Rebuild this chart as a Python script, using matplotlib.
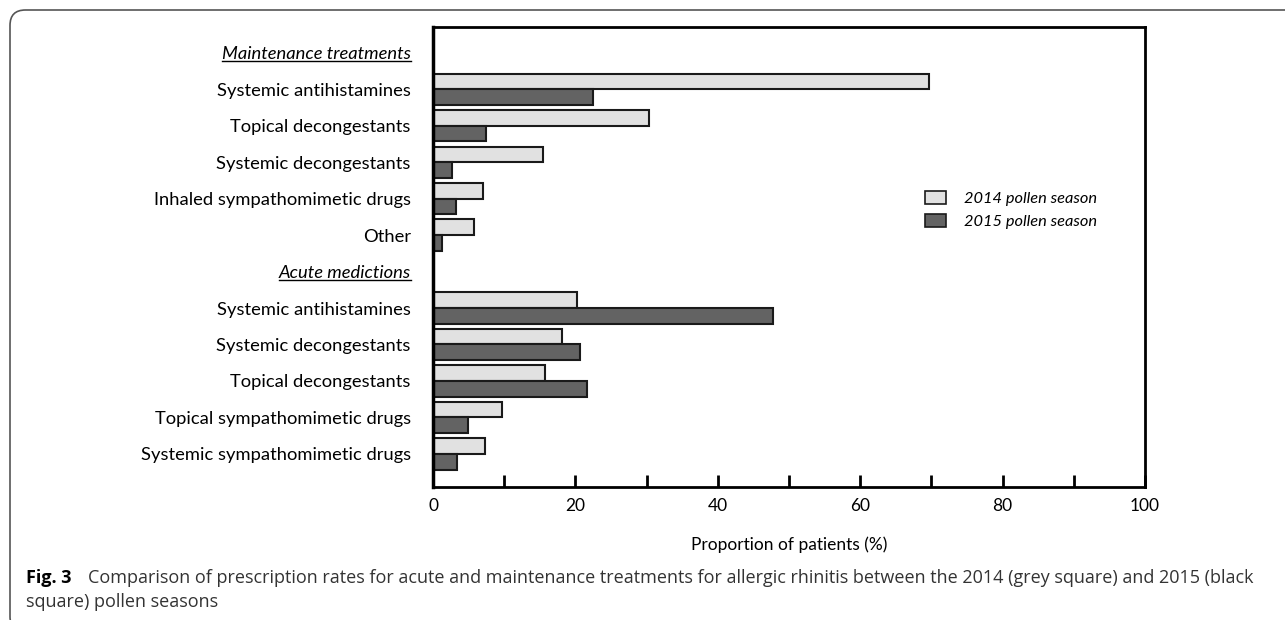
import matplotlib
matplotlib.use("Agg")
import matplotlib.pyplot as plt
from matplotlib.patches import FancyBboxPatch, Patch
from matplotlib.lines import Line2D

plt.rcParams['font.family'] = ['Lato', 'DejaVu Sans']

# data
maint_labels = ["Systemic antihistamines", "Topical decongestants", "Systemic decongestants",
                "Inhaled sympathomimetic drugs", "Other"]
maint_2014 = [69.7, 30.3, 15.5, 7.0, 5.7]
maint_2015 = [22.5, 7.4, 2.7, 3.2, 1.3]

acute_labels = ["Systemic antihistamines", "Systemic decongestants", "Topical decongestants",
                "Topical sympathomimetic drugs", "Systemic sympathomimetic drugs"]
acute_2014 = [20.2, 18.1, 15.8, 9.7, 7.3]
acute_2015 = [47.8, 20.6, 21.6, 4.9, 3.4]

header_maint = "Maintenance treatments"
header_acute = "Acute medictions"
xticks = [0, 20, 40, 60, 80, 100]

light = '#e1e1e1'
dark = '#636363'

# row layout: header, 5 rows, header, 5 rows
rows_m = list(range(1, 1 + len(maint_labels)))
rows_a = list(range(2 + len(maint_labels), 2 + len(maint_labels) + len(acute_labels)))
rows = rows_m + rows_a
v2014 = maint_2014 + acute_2014
v2015 = maint_2015 + acute_2015
all_labels = [header_maint] + maint_labels + [header_acute] + acute_labels

fig = plt.figure(figsize=(12.85, 6.2), dpi=100)
ax = fig.add_axes([433/1285, 133/620, 712/1285, 460/620])

h = 0.43
ax.barh([r - h/2 for r in rows], v2014, height=h, color=light, edgecolor='#1a1a1a', linewidth=1.5)
ax.barh([r + h/2 for r in rows], v2015, height=h, color=dark, edgecolor='#1a1a1a', linewidth=1.5)

ax.set_xlim(0, 100)
ax.set_ylim(11.91, -0.71)
ax.set_xticks(xticks)
ax.set_xticks([10, 30, 50, 70, 90], minor=True)
ax.tick_params(axis='x', which='both', direction='in', length=9, width=2, labelsize=12.5, pad=8)
ax.set_yticks(range(len(all_labels)))
ax.set_yticklabels(all_labels, fontsize=13.2)
ax.tick_params(axis='y', length=0, pad=16)
for sp in ax.spines.values():
    sp.set_linewidth(2)
ax.spines['left'].set_linewidth(2.5)

ylabs = ax.get_yticklabels()
for i in (0, len(maint_labels) + 1):
    ylabs[i].set_fontstyle('italic')

ax.set_xlabel("Proportion of patients (%)", fontsize=12.5, labelpad=16)

leg = ax.legend(handles=[Patch(facecolor=light, edgecolor='#1a1a1a', linewidth=1.2),
                         Patch(facecolor=dark, edgecolor='#1a1a1a', linewidth=1.2)],
                labels=["2014 pollen season", "2015 pollen season"],
                loc='center left', bbox_to_anchor=(910/1285, 1 - 210/620),
                bbox_transform=fig.transFigure, frameon=False,
                prop={'style': 'italic', 'size': 11.8}, handlelength=1.3, handleheight=0.9,
                handletextpad=1.1, labelspacing=0.45)

# caption
cap_font = ['Open Sans', 'DejaVu Sans']
fig.text(26/1285, 1 - 578/620, "Fig. 3", fontsize=13, fontweight='bold', va='center',
         family=cap_font)
fig.text(88/1285, 1 - 578/620,
         "Comparison of prescription rates for acute and maintenance treatments for allergic rhinitis "
         "between the 2014 (grey square) and 2015 (black",
         fontsize=13, va='center', color='#333333', family=cap_font)
fig.text(26/1285, 1 - 602/620, "square) pollen seasons", fontsize=13, va='center',
         color='#333333', family=cap_font)

# frame
frame = FancyBboxPatch((10/1285, -12/620), 1.2, 622/620 - 0.0,
                       boxstyle="round,pad=0,rounding_size=0.012",
                       transform=fig.transFigure, fill=False, edgecolor='#555555',
                       linewidth=1.2, mutation_aspect=1285/620)
fig.patches.append(frame)

# underline headers
fig.canvas.draw()
r = fig.canvas.get_renderer()
for i in (0, len(maint_labels) + 1):
    bb = ylabs[i].get_window_extent(r)
    y = bb.y0 + 1
    fig.add_artist(Line2D([bb.x0 / fig.bbox.width, bb.x1 / fig.bbox.width],
                          [y / fig.bbox.height, y / fig.bbox.height],
                          transform=fig.transFigure, color='black', linewidth=1))

fig.savefig("out.png", dpi=100)
